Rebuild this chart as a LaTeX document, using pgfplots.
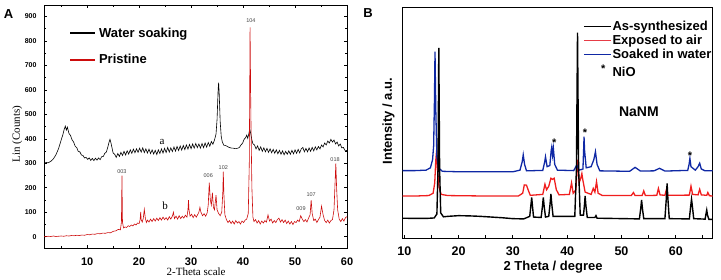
\documentclass[border=0pt]{standalone}
\usepackage{fontspec}
\setmainfont{Liberation Sans}
\newfontfamily\seriffont{Liberation Serif}
\usepackage{pgfplots}
\pgfplotsset{compat=1.18}
\definecolor{redA}{RGB}{205,12,12}
\definecolor{redB}{RGB}{240,30,30}
\definecolor{redL}{RGB}{230,60,70}
\definecolor{blueB}{RGB}{15,40,165}
\definecolor{lblgray}{RGB}{70,70,70}
\begin{document}
\begin{tikzpicture}
\path[use as bounding box] (0,0) rectangle (721pt,280pt);
\node[font=\bfseries\fontsize{13}{13}\selectfont] at (8.5pt,266pt) {A};
\node[font=\bfseries\fontsize{13}{13}\selectfont] at (368pt,266.5pt) {B};
% ---------------- Panel A ----------------
\begin{axis}[at={(44pt,32pt)}, anchor=south west, scale only axis,
  width=303pt, height=243pt,
  xmin=1.7, xmax=60, ymin=-46, ymax=947,
  xtick={10,20,...,60}, minor xtick={5,15,...,55},
  ytick={0,100,...,900}, minor ytick={50,150,...,950},
  tick align=inside, major tick length=3pt, minor tick length=2pt,
  axis line style={line width=0.7pt}, every tick/.style={black, line width=0.6pt},
  /pgf/number format/assume math mode=true,
  xticklabel style={font=\bfseries\fontsize{11}{11}\selectfont, yshift=-6pt},
  yticklabel style={font=\bfseries\fontsize{7}{7}\selectfont, xshift=-4pt},
  xlabel={\seriffont 2-Theta scale}, ylabel={\seriffont Lin (Counts)},
  every axis x label/.style={at={(axis description cs:0.502,-0.0975)}, anchor=center, font=\fontsize{11}{11}\selectfont},
  every axis y label/.style={at={(axis description cs:-0.088,0.469)}, anchor=center, rotate=90, font=\fontsize{11}{11}\selectfont},
  legend style={at={(axis description cs:0.083,0.918)}, anchor=north west, draw=none, fill=none,
    font=\bfseries\fontsize{13}{13}\selectfont, row sep=11pt, inner sep=0pt, nodes={inner sep=2.5pt}},
  legend cell align=left,
  legend image code/.code={\draw[#1,line width=2.2pt] (0pt,0pt) -- (25pt,0pt);},
]
\addplot[black, line width=0.6pt] coordinates {(1.7,303)(2,304)(2.5,302)(3,308)(3.5,318)(4,335)(4.5,360)(5,395)(5.3,415)(5.6,440)(5.8,452)(6,436)(6.2,448)(6.5,422)(6.8,414)(7.1,396)(7.4,387)(7.7,370)(8,364)(8.3,348)(8.6,347)(8.9,334)(9.2,332)(9.5,322)(9.8,324)(10.1,316)(10.4,322)(10.7,312)(11,320)(11.3,311)(11.6,321)(11.9,313)(12.2,322)(12.5,315)(12.8,327)(13.1,328)(13.4,341)(13.7,346)(14,368)(14.2,385)(14.4,398)(14.6,382)(14.8,362)(15,342)(15.3,337)(15.6,324)(15.9,340)(16.2,328)(16.5,345)(16.8,332)(17.1,349)(17.4,334)(17.7,351)(18,338)(18.3,355)(18.6,341)(18.9,358)(19.2,343)(19.5,359)(19.8,345)(20.1,362)(20.4,346)(20.7,363)(21,344)(21.3,359)(21.6,342)(21.9,358)(22.2,340)(22.5,355)(22.8,338)(23.1,353)(23.4,336)(23.7,355)(24,340)(24.3,359)(24.6,342)(24.9,361)(25.2,344)(25.5,365)(25.8,346)(26.1,363)(26.4,348)(26.7,367)(27,350)(27.3,369)(27.6,352)(27.9,371)(28.2,354)(28.5,373)(28.8,356)(29.1,375)(29.4,358)(29.7,377)(30,360)(30.3,379)(30.6,362)(30.9,381)(31.2,364)(31.5,379)(31.8,362)(32.1,381)(32.4,364)(32.7,383)(33,366)(33.3,385)(33.6,370)(33.9,389)(34.2,378)(34.5,395)(34.8,420)(35,480)(35.2,600)(35.3,630)(35.4,590)(35.6,470)(35.8,410)(36,388)(36.3,374)(36.6,373)(36.9,370)(37.2,366)(37.5,364)(37.8,362)(38.1,362)(38.4,360)(38.7,360)(39,362)(39.3,365)(39.6,375)(39.9,382)(40.2,398)(40.5,405)(40.7,415)(40.9,402)(41.1,420)(41.3,440)(41.5,420)(41.7,395)(41.9,380)(42.2,375)(42.5,359)(42.8,371)(43.1,353)(43.4,367)(43.7,349)(44,363)(44.3,347)(44.6,361)(44.9,345)(45.2,359)(45.5,343)(45.8,357)(46.1,341)(46.4,355)(46.7,339)(47,353)(47.3,337)(47.6,351)(47.9,335)(48.2,349)(48.5,337)(48.8,351)(49.1,337)(49.4,353)(49.7,339)(50,355)(50.3,341)(50.6,357)(50.9,343)(51.2,359)(51.5,365)(51.8,347)(52.1,361)(52.4,347)(52.7,363)(53,349)(53.3,365)(53.6,351)(53.9,367)(54.2,355)(54.5,369)(54.8,359)(55.1,375)(55.4,367)(55.7,383)(56,375)(56.3,391)(56.6,383)(56.9,398)(57.2,387)(57.5,395)(57.8,379)(58.1,387)(58.4,371)(58.7,379)(59,363)(59.3,365)(59.6,353)(60,352)};
\addlegendentry{Water soaking}
\addplot[redA, line width=0.6pt] coordinates {(1.7,1)(2,0)(2.5,2)(3,1)(3.5,3)(4,1)(4.5,2)(5,3)(5.5,2)(6,4)(6.5,3)(7,5)(7.5,4)(8,6)(8.5,5)(9,7)(9.5,6)(10,9)(10.5,8)(11,11)(11.5,10)(12,13)(12.5,12)(13,15)(13.5,14)(14,17)(14.5,16)(15,22)(15.5,24)(16,30)(16.4,28)(16.6,60)(16.7,250)(16.8,60)(17,36)(17.3,40)(17.6,38)(17.9,45)(18.2,42)(18.5,48)(18.8,44)(19.1,52)(19.4,48)(19.7,56)(20,54)(20.2,70)(20.3,102)(20.4,70)(20.6,60)(20.8,75)(21,112)(21.2,75)(21.4,58)(21.6,68)(21.9,60)(22.2,72)(22.5,62)(22.8,74)(23.1,64)(23.4,76)(23.7,66)(24,78)(24.3,68)(24.6,80)(24.9,70)(25.2,78)(25.5,68)(25.8,82)(26.1,72)(26.4,84)(26.6,100)(26.8,74)(27.1,84)(27.4,72)(27.7,86)(28,74)(28.3,84)(28.6,76)(28.9,88)(29.2,80)(29.4,110)(29.5,150)(29.6,110)(29.8,84)(30.1,92)(30.4,78)(30.7,90)(31,80)(31.3,92)(31.5,100)(31.7,120)(31.9,100)(32.2,86)(32.5,94)(32.8,84)(33.1,98)(33.3,130)(33.5,221)(33.7,150)(33.9,130)(34.1,180)(34.3,120)(34.5,110)(34.8,170)(35,110)(35.3,95)(35.6,86)(35.9,100)(36.1,180)(36.2,266)(36.3,180)(36.5,90)(36.8,70)(37.1,58)(37.4,66)(37.7,54)(38,64)(38.3,52)(38.6,66)(38.9,56)(39.2,62)(39.5,52)(39.8,64)(40.1,58)(40.4,68)(40.7,72)(41,95)(41.2,300)(41.35,855)(41.5,500)(41.7,200)(41.9,80)(42.1,62)(42.4,70)(42.7,56)(43,66)(43.3,52)(43.6,64)(43.9,56)(44.2,66)(44.5,60)(44.8,89)(45.1,64)(45.4,72)(45.7,56)(46,66)(46.3,58)(46.6,70)(46.9,76)(47.2,60)(47.5,70)(47.8,58)(48.1,68)(48.4,54)(48.7,64)(49,52)(49.3,62)(49.6,50)(49.9,62)(50.2,58)(50.5,68)(50.8,62)(51.1,86)(51.4,72)(51.7,62)(52,70)(52.3,60)(52.6,76)(52.9,90)(53.1,150)(53.3,95)(53.6,66)(53.9,72)(54.2,58)(54.5,70)(54.8,80)(55.1,125)(55.4,90)(55.7,66)(56,58)(56.3,68)(56.6,56)(56.9,66)(57.2,70)(57.5,110)(57.7,220)(57.85,300)(58,200)(58.2,110)(58.5,72)(58.8,62)(59.1,74)(59.4,64)(59.7,78)(60,82)};
\addlegendentry{Pristine}
\begin{scope}[every node/.style={font=\fontsize{5.5}{5.5}\selectfont, text=lblgray, inner sep=0pt}]
\node at (axis cs:16.7,268) {003};
\node at (axis cs:33.3,248) {006};
\node at (axis cs:36.2,282) {102};
\node at (axis cs:41.5,883) {104};
\node at (axis cs:51.15,116) {009};
\node at (axis cs:53.1,173) {107};
\node at (axis cs:57.7,316) {018};
\end{scope}
\node[font=\seriffont\fontsize{11}{11}\selectfont] at (axis cs:24.4,386) {a};
\node[font=\seriffont\fontsize{11}{11}\selectfont] at (axis cs:25,127) {b};
\end{axis}
% ---------------- Panel B ----------------
\begin{axis}[at={(402.7pt,41.7pt)}, anchor=south west, scale only axis,
  width=310pt, height=231pt,
  xmin=9.7, xmax=66.8, ymin=0, ymax=100,
  xtick={10,20,...,60}, minor xtick={15,25,...,65}, ytick=\empty,
  xtick pos=left, tick align=inside, major tick length=3.5pt, minor tick length=3pt,
  axis line style={line width=1.1pt}, every tick/.style={black, line width=0.9pt},
  /pgf/number format/assume math mode=true,
  xticklabel style={font=\bfseries\fontsize{12.5}{12.5}\selectfont, yshift=-4.5pt},
  xlabel={2 Theta / degree}, ylabel={Intensity / a.u.},
  every axis x label/.style={at={(axis description cs:0.485,-0.127)}, anchor=center, font=\bfseries\fontsize{13}{13}\selectfont},
  every axis y label/.style={at={(axis description cs:-0.0458,0.508)}, anchor=center, rotate=90, font=\bfseries\fontsize{13}{13}\selectfont},
  legend style={at={(axis description cs:1.0,0.945)}, anchor=north east, draw=none, fill=none,
    font=\bfseries\fontsize{13}{13}\selectfont, row sep=1pt, inner sep=0pt, nodes={inner sep=1pt}},
  legend cell align=left,
  legend image code/.code={\draw[#1,line width=1.3pt] (0pt,0pt) -- (27pt,0pt);},
]
\addlegendimage{black}
\addlegendimage{redL}
\addlegendimage{blueB}
\addlegendimage{legend image code/.code={\node[font=\bfseries\fontsize{11}{11}\selectfont, inner sep=0pt] at (17pt,1pt) {*};}}
\legend{As-synthesized, Exposed to air, Soaked in water, \rule{0pt}{14pt}NiO}
\addplot[redB, line width=1.3pt, forget plot] coordinates {(9.7,18.3)(12,18.3)(14.5,18.5)(15.3,19.5)(15.6,24)(15.8,34)(15.95,38)(16.1,30)(16.4,22)(16.8,19)(18,18.5)(25,18.3)(31,18.3)(31.8,19.5)(32.1,23.1)(32.5,23)(32.8,21)(33.2,18.6)(35.5,19)(35.9,23.4)(36.2,21)(36.6,22.5)(37.0,26)(37.3,25.5)(37.6,26)(38.0,21)(38.5,18.8)(40.4,19)(40.8,24)(41.1,19.5)(41.6,21)(41.9,34)(42.2,24)(42.5,26)(42.7,28)(42.9,25)(43.3,20)(44.4,19)(44.8,21.6)(45.1,20)(45.4,24.5)(45.7,19.5)(46.5,18.5)(51.8,18.5)(52.2,19.8)(52.5,18.5)(53.8,18.5)(54.1,20.5)(54.4,18.5)(56.5,18.6)(56.8,21.6)(57.1,18.8)(58.0,18.6)(58.2,20.5)(58.5,18.6)(62.5,18.7)(62.8,22.6)(63.1,19)(64.1,18.8)(64.4,21.2)(64.7,18.8)(65.7,18.6)(65.9,19.8)(66.2,18.4)(66.8,18.3)};
\addplot[blueB, line width=1.3pt, forget plot] coordinates {(9.7,29.3)(12,29.3)(14,29.5)(14.8,30.5)(15.2,34)(15.4,40)(15.55,60)(15.65,80.8)(15.8,55)(16.0,35)(16.3,30.5)(17,29)(20,28.8)(25,28.8)(30,28.8)(31.3,29.5)(31.7,33)(31.9,36.1)(32.15,32)(32.5,29.2)(35.5,29.4)(35.85,33)(36.0,35.3)(36.3,31)(36.8,31.5)(37.05,38)(37.15,39.4)(37.3,36)(37.45,39)(37.7,32)(38.2,29.5)(41.2,29.3)(41.75,31.7)(42.2,29.5)(42.9,30)(43.05,40)(43.1,44)(43.2,38)(43.5,30.5)(44.4,31)(44.9,34)(45.2,37.5)(45.5,32)(46,29.2)(51.5,29)(52.5,30.7)(53.5,29.1)(56,29.2)(57,30.3)(58,29.1)(62.2,29.4)(62.45,32)(62.6,34.6)(62.8,31)(63.6,29.5)(64.1,31)(64.4,32.5)(64.7,30)(65.4,29.2)(66.8,29.2)};
\addplot[black, line width=1.4pt, forget plot] coordinates {(9.7,8.7)(12,8.6)(14,8.6)(15.5,8.8)(16.0,10.5)(16.2,30)(16.35,82.4)(16.5,30)(16.7,11)(17.2,9.3)(18,9.5)(20,9.8)(22,9.7)(24,9.5)(26,9.2)(28,8.9)(30,8.5)(32,8.4)(33.1,9.5)(33.3,14)(33.46,17.7)(33.6,14)(33.8,9.2)(35.2,9)(35.45,14)(35.6,17.7)(35.75,14)(36,9.2)(36.6,9.5)(36.85,15)(37.0,19.2)(37.15,15)(37.4,9.5)(41.4,9.5)(41.7,30)(41.9,89)(42.1,30)(42.4,10)(43.0,10)(43.2,15)(43.3,18.3)(43.45,14)(43.7,9)(45.1,9)(45.3,9.8)(45.5,8.7)(53.3,8.4)(53.55,13)(53.7,16.6)(53.85,13)(54.1,8.5)(58.0,8.5)(58.25,17)(58.4,23.8)(58.55,17)(58.8,8.5)(62.5,8.4)(62.75,14)(62.9,16.9)(63.05,14)(63.3,8.5)(65.4,8.3)(65.6,11)(65.7,12.2)(65.85,10)(66.1,8.2)(66.8,8.2)};
\begin{scope}[every node/.style={font=\bfseries\fontsize{11}{11}\selectfont, inner sep=0pt}]
\node at (axis cs:37.6,41.5) {*};
\node at (axis cs:43.3,45.5) {*};
\node at (axis cs:62.6,35.8) {*};
\end{scope}
\node[font=\bfseries\fontsize{14}{14}\selectfont] at (axis cs:53.2,54.8) {NaNM};
\end{axis}
\end{tikzpicture}
\end{document}
